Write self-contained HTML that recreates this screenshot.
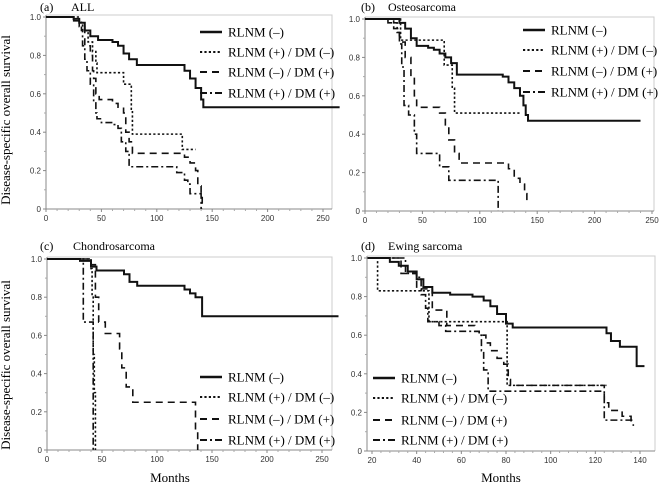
<!DOCTYPE html>
<html><head><meta charset="utf-8"><style>
body{margin:0;background:#fff;}
svg text{font-family:"Liberation Serif",serif;}
.tk{font-family:"Liberation Sans",sans-serif;font-size:8px;fill:#333;}
</style></head><body>
<svg id="chart" width="666" height="485" viewBox="0 0 666 485" xmlns="http://www.w3.org/2000/svg">
<text x="10" y="120" font-size="13" text-anchor="middle" transform="rotate(-90 10 120)">Disease-specific overall survival</text>
<text x="10" y="365" font-size="13" text-anchor="middle" transform="rotate(-90 10 365)">Disease-specific overall survival</text>
<text x="170" y="482" font-size="13" text-anchor="middle">Months</text>
<text x="501" y="482" font-size="13" text-anchor="middle">Months</text>
</svg>
<script>
const labels = ["RLNM (–)", "RLNM (+) / DM (–)", "RLNM (–) / DM (+)", "RLNM (+) / DM (+)"];
const yTicks = [0, 0.2, 0.4, 0.6, 0.8, 1.0];
const yTickLabels = ["0", "0.2", "0.4", "0.6", "0.8", "1.0"];
const xTicksFull = [0, 50, 100, 150, 200, 250];
const xTicksEwing = [20, 40, 60, 80, 100, 120, 140];

const aSolid = [[0,1],[20,1],[25,0.99],[30,0.97],[35,0.93],[40,0.9],[47,0.88],[60,0.87],[65,0.85],[70,0.81],[75,0.78],[82,0.75],[120,0.75],[125,0.72],[130,0.68],[135,0.63],[140,0.57],[142,0.53],[265,0.53]];
const aDotted = [[0,1],[20,1],[30,0.97],[33,0.93],[38,0.87],[42,0.82],[45,0.76],[46,0.71],[69,0.71],[70,0.65],[75,0.65],[77,0.52],[78,0.39],[122,0.39],[123,0.31],[135,0.31]];
const aDashed = [[0,1],[25,0.98],[30,0.95],[35,0.85],[40,0.8],[42,0.72],[43,0.68],[45,0.6],[48,0.57],[60,0.55],[65,0.53],[70,0.5],[72,0.4],[75,0.35],[78,0.29],[120,0.29],[125,0.27],[130,0.24],[135,0.2],[137,0.12],[140,0.07],[141,0]];
const aDashDot = [[0,1],[25,0.98],[32,0.93],[33,0.85],[35,0.78],[37,0.72],[40,0.65],[43,0.56],[45,0.5],[46,0.47],[50,0.45],[60,0.44],[65,0.42],[68,0.35],[72,0.3],[75,0.22],[115,0.22],[118,0.19],[125,0.15],[128,0.13],[130,0.08],[138,0.08],[140,0]];

const bSolid = [[0,1],[25,1],[30,0.98],[35,0.95],[40,0.9],[45,0.86],[55,0.85],[60,0.84],[65,0.82],[70,0.8],[75,0.77],[80,0.71],[115,0.71],[120,0.7],[125,0.67],[130,0.64],[135,0.6],[138,0.55],[140,0.5],[142,0.47],[240,0.47]];
const bDotted = [[0,1],[30,1],[31,0.89],[68,0.89],[69,0.76],[75,0.76],[76,0.64],[78,0.51],[135,0.51]];
const bDashed = [[0,1],[15,1],[20,0.98],[25,0.95],[30,0.88],[35,0.8],[40,0.7],[43,0.6],[45,0.54],[55,0.54],[65,0.51],[70,0.44],[73,0.37],[78,0.3],[82,0.25],[120,0.25],[125,0.22],[130,0.17],[135,0.14],[139,0.09],[141,0.05]];
const bDashDot = [[0,1],[25,0.98],[28,0.93],[30,0.87],[32,0.75],[34,0.55],[38,0.5],[43,0.4],[45,0.3],[64,0.3],[65,0.23],[72,0.23],[73,0.16],[115,0.16],[116,0]];

const cSolid = [[0,1],[30,0.99],[40,0.96],[45,0.94],[60,0.94],[70,0.92],[75,0.88],[82,0.86],[115,0.86],[125,0.84],[130,0.82],[135,0.8],[140,0.8],[141,0.7],[265,0.7]];
const cDotted = [[0,1],[38,1],[40,0.95],[41,0.8],[42,0.5],[43,0.3],[44,0]];
const cDashed = [[0,1],[40,0.97],[44,0.8],[47,0.67],[53,0.61],[65,0.61],[66,0.53],[68,0.43],[72,0.33],[78,0.25],[133,0.25],[135,0.1],[137,0]];
const cDashDot = [[0,1],[32,1],[33,0.67],[40,0.67],[42,0]];

const dSolid = [[18,1],[22,1],[28,0.98],[32,0.96],[36,0.93],[40,0.89],[43,0.85],[47,0.82],[55,0.81],[65,0.8],[70,0.78],[73,0.75],[76,0.71],[80,0.66],[83,0.64],[122,0.64],[125,0.61],[127,0.57],[131,0.54],[138,0.54],[138.5,0.44],[142,0.44]];
const dDotted = [[18,1],[22,1],[22.5,0.83],[45,0.83],[45.5,0.67],[80,0.67],[80.5,0.34],[125,0.34]];
const dDashed = [[18,1],[30,1],[33,0.92],[38,0.92],[40,0.84],[46,0.84],[47,0.73],[53,0.73],[53.5,0.65],[66,0.62],[68,0.6],[71,0.56],[73,0.52],[76,0.48],[79,0.45],[81,0.37],[82,0.34],[122,0.34],[124,0.25],[126,0.21],[130,0.21],[132,0.18],[136,0.15],[137,0.13]];
const dDashDot = [[18,1],[34,1],[35,0.92],[40,0.9],[42,0.81],[44,0.74],[45,0.67],[50,0.65],[53,0.62],[68,0.6],[69,0.52],[70,0.42],[72,0.31],[123,0.31],[124,0.16],[137,0.16]];

const styles = [
  {w:2, dash:null},
  {w:1.6, dash:"2.2,2.2"},
  {w:1.6, dash:"7,5"},
  {w:1.6, dash:"7,3,2,3"}
];
const NS = "http://www.w3.org/2000/svg";
const svg = document.getElementById("chart");
function mk(tag, attrs, parent){ const e=document.createElementNS(NS,tag); for(const k in attrs) e.setAttribute(k,attrs[k]); (parent||svg).appendChild(e); return e; }

const panels = [
  {id:"a", letter:"(a)", title:"ALL", L:46, R:332, T:15, B:209, x0:0, x1:250, px0:46, px1:323, xt:xTicksFull, series:[aSolid,aDotted,aDashed,aDashDot], lx:200, tx:228, ly:[32,52,72,93], tl:[40,71], ty:11},
  {id:"b", letter:"(b)", title:"Osteosarcoma", L:365, R:654, T:17, B:211, x0:0, x1:250, px0:365, px1:652, xt:xTicksFull, series:[bSolid,bDotted,bDashed,bDashDot], lx:523, tx:551, ly:[30,50,71,92], tl:[361,388], ty:11},
  {id:"c", letter:"(c)", title:"Chondrosarcoma", L:47, R:332, T:257, B:450, x0:0, x1:250, px0:47, px1:322, xt:xTicksFull, series:[cSolid,cDotted,cDashed,cDashDot], lx:200, tx:228, ly:[377,397,419,440], tl:[40,73], ty:250},
  {id:"d", letter:"(d)", title:"Ewing sarcoma", L:367, R:655, T:256, B:451, x0:20, x1:140, px0:372, px1:640, xt:xTicksEwing, series:[dSolid,dDotted,dDashed,dDashDot], lx:373, tx:401, ly:[378,398,420,440], tl:[361,388], ty:250}
];

panels.forEach(p=>{
  const g = mk("g",{});
  
  
  const yTop = p.id==="a"?17:(p.id==="b"?19:(p.id==="c"?259:258));
  const X = v => p.px0 + (v-p.x0)*(p.px1-p.px0)/(p.x1-p.x0);
  const Y = v => p.B - v*(p.B-yTop);
  const fr = mk("path",{d:`M${p.L} ${p.T}H${p.R}V${p.B}`,fill:"none",stroke:"#ccc","stroke-width":1},g);
  
  
  const ax = mk("path",{d:`M${p.L} ${p.T}V${p.B}H${p.R}`,fill:"none",stroke:"#888","stroke-width":1},g);
  
  
  const t1 = mk("text",{x:p.tl[0],y:p.ty,"font-size":12},g); t1.textContent=p.letter;
  
  
  const t2 = mk("text",{x:p.tl[1],y:p.ty,"font-size":12},g); t2.textContent=p.title;
  
  
  yTicks.forEach((v,i)=>{
    const y=Y(v);
    mk("line",{x1:p.L-3,x2:p.L,y1:y,y2:y,stroke:"#888"},g);
    if(i<yTicks.length-1){ const ym=Y(v+0.1); mk("line",{x1:p.L-2,x2:p.L,y1:ym,y2:ym,stroke:"#aaa"},g); }
    const t=mk("text",{x:p.L-5,y:y+3,"text-anchor":"end",class:"tk"},g); t.textContent=yTickLabels[i];
    
    
  });
  p.xt.forEach((v,i)=>{
    const x=X(v);
    mk("line",{x1:x,x2:x,y1:p.B,y2:p.B+3,stroke:"#888"},g);
    if(i<p.xt.length-1){ const step=(p.xt[1]-p.xt[0])/5; for(let k=1;k<5;k++){const xm=X(v+k*step); if(xm<p.R) mk("line",{x1:xm,x2:xm,y1:p.B,y2:p.B+2,stroke:"#aaa"},g);} }
    const t=mk("text",{x:x,y:p.B+12,"text-anchor":"middle",class:"tk"},g); t.textContent=String(v);
    
    
  });
  p.series.forEach((s,si)=>{
    let d=`M${X(s[0][0])} ${Y(s[0][1])}`;
    for(let i=1;i<s.length;i++){ d+=`H${X(s[i][0])}V${Y(s[i][1])}`; }
    const a={d:d,fill:"none",stroke:"#111","stroke-width":styles[si].w};
    if(styles[si].dash) a["stroke-dasharray"]=styles[si].dash;
    const path=mk("path",a,g);
    
    
    const la={x1:p.lx,x2:p.lx+22,y1:p.ly[si],y2:p.ly[si],stroke:"#111","stroke-width":styles[si].w+0.4};
    if(styles[si].dash) la["stroke-dasharray"]=styles[si].dash;
    const ll=mk("line",la,g);
    
    
    const lt=mk("text",{x:p.tx,y:p.ly[si]+4.5,"font-size":13},g); lt.textContent=labels[si];
    
    
  });
});
</script>
</body></html>
